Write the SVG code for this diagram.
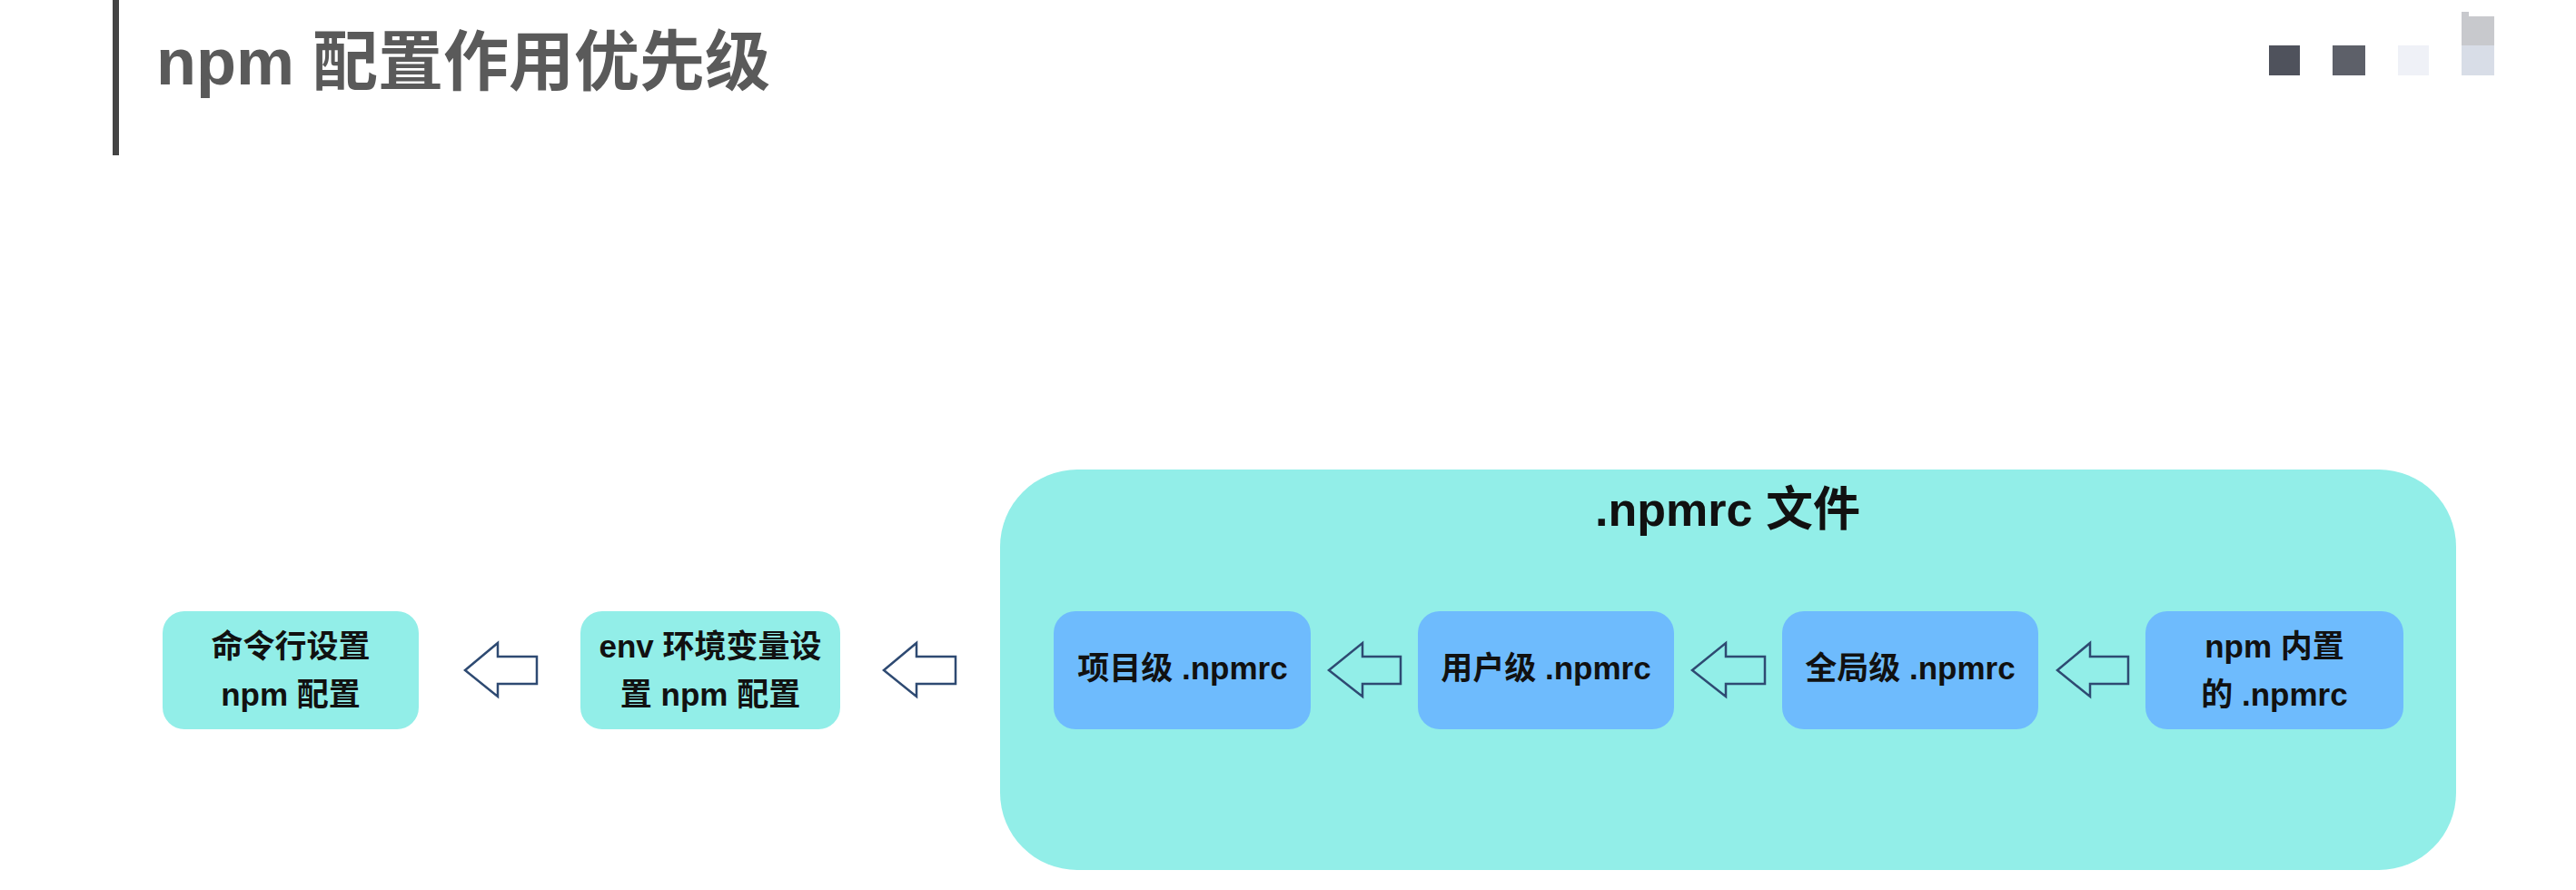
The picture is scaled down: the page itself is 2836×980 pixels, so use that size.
<svg xmlns="http://www.w3.org/2000/svg" width="2836" height="980" viewBox="0 0 2836 980">
<style>
  .t { font-family: "Liberation Sans", "Noto Sans CJK SC", sans-serif; font-weight: bold; fill: #111; }
  .nt { font-size: 35px; text-anchor: middle; }
  .outer { fill: #92EEE8; }
  .inner { fill: #6EBBFD; }
  .arrow { fill: none; stroke: #2E4A72; stroke-width: 2.5; stroke-linejoin: miter; }
</style>
<rect width="2836" height="980" fill="#ffffff"/>
<!-- header -->
<rect x="124" y="0" width="7" height="171" fill="#444"/>
<text x="172" y="93" class="t" style="font-size:72px;fill:#5a5a5a">npm 配置作用优先级</text>
<g id="deco">
  <rect x="2498" y="50" width="34" height="33" fill="#4f525c"/>
  <rect x="2568" y="50" width="36" height="33" fill="#5d6069"/>
  <rect x="2640" y="50" width="34" height="33" fill="#eff1f7"/>
  <rect x="2710" y="50" width="36" height="33" fill="#d8dde7"/>
  <rect x="2710" y="18" width="36" height="32" fill="#c8c9cd"/>
  <rect x="2710" y="13" width="8" height="6" fill="#c8c9cd"/>
</g>
<!-- container -->
<g id="npmrc-file">
  <rect class="outer" x="1101" y="517" width="1603" height="441" rx="85" ry="85"/>
  <text x="1902" y="579" class="t" style="font-size:52px;text-anchor:middle">.npmrc 文件</text>
</g>
<g id="cli">
  <rect class="outer" x="179" y="673" width="282" height="130" rx="24"/>
  <text class="t nt" x="320" y="724">命令行设置</text>
  <text class="t nt" x="320" y="777">npm 配置</text>
</g>
<g id="env">
  <rect class="outer" x="639" y="673" width="286" height="130" rx="24"/>
  <text class="t nt" x="782" y="724">env 环境变量设</text>
  <text class="t nt" x="782" y="777">置 npm 配置</text>
</g>
<g id="project">
  <rect class="inner" x="1160" y="673" width="283" height="130" rx="24"/>
  <text class="t nt" x="1302" y="748">项目级 .npmrc</text>
</g>
<g id="user">
  <rect class="inner" x="1561" y="673" width="282" height="130" rx="24"/>
  <text class="t nt" x="1702" y="748">用户级 .npmrc</text>
</g>
<g id="global">
  <rect class="inner" x="1962" y="673" width="282" height="130" rx="24"/>
  <text class="t nt" x="2103" y="748">全局级 .npmrc</text>
</g>
<g id="builtin">
  <rect class="inner" x="2362" y="673" width="284" height="130" rx="24"/>
  <text class="t nt" x="2504" y="724">npm 内置</text>
  <text class="t nt" x="2504" y="777">的 .npmrc</text>
</g>
<g id="connectors">
  <path class="arrow" d="M512,738 L548,708 L548,723 L591,723 L591,753 L548,753 L548,767 Z"/>
  <path class="arrow" d="M973,738 L1009,708 L1009,723 L1052,723 L1052,753 L1009,753 L1009,767 Z"/>
  <path class="arrow" d="M1463,738 L1500,708 L1500,723 L1542,723 L1542,753 L1500,753 L1500,767 Z"/>
  <path class="arrow" d="M1863,738 L1900,708 L1900,723 L1943,723 L1943,753 L1900,753 L1900,767 Z"/>
  <path class="arrow" d="M2265,738 L2301,708 L2301,723 L2343,723 L2343,753 L2301,753 L2301,767 Z"/>
</g>
</svg>
